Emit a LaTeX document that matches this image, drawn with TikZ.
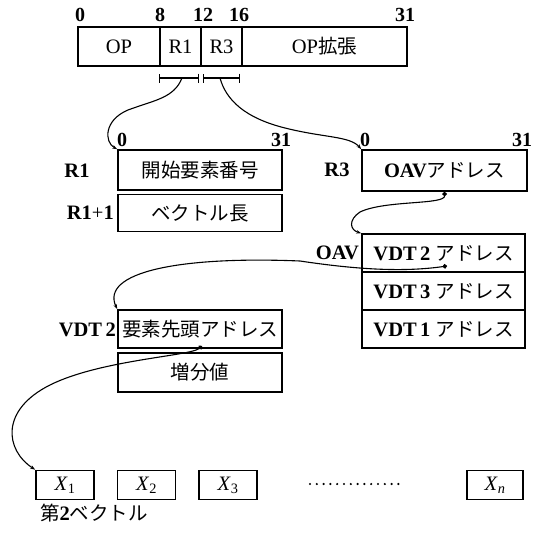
\documentclass[tikz,border=0pt]{standalone}
\usepackage{fontspec}
\setmainfont{Liberation Serif}
\newfontfamily\jp{Noto Sans CJK JP}
\usetikzlibrary{arrows.meta}
\newcommand{\fs}{\fontsize{20.5}{23}\selectfont}
\newcommand{\fj}{\fontsize{19.5}{23}\selectfont\jp}
\newcommand{\fb}{\fontsize{20}{22}\selectfont\bfseries}
\begin{document}
\begin{tikzpicture}[x=1pt,y=-1pt,
  fld/.style={draw,line width=1.6pt,minimum height=39pt,inner sep=0pt,font=\fs},
  box/.style={draw,line width=1.6pt,minimum width=164pt,inner sep=0pt,font=\fs},
  xbox/.style={draw,line width=1.6pt,minimum width=58pt,minimum height=29pt,inner sep=0pt,font=\fs},
  bit/.style={inner sep=0pt,font=\fb},
  lab/.style={inner sep=0pt,font=\fs\bfseries},
  brk/.style={line width=1.3pt,{Bar[width=9pt,line width=1.1pt]}-{Bar[width=9pt,line width=1.1pt]}},
  conn/.style={line width=1.1pt,-{Stealth[length=5pt,width=3.5pt]}},
  dconn/.style={line width=1.1pt,{Circle[length=4.5pt]}-{Stealth[length=5pt,width=3.5pt]}}]
\useasboundingbox (0,0) rectangle (534,538);

% instruction word
\node[fld,minimum width=82pt] (op) at (119,46.5) {OP};
\node[fld,minimum width=41pt] (r1f) at (180.5,46.5) {R1};
\node[fld,minimum width=41pt] (r3f) at (221.5,46.5) {R3};
\node[fld,minimum width=165pt] (opx) at (324.5,46.5) {OP{\fj 拡張}};
\node[bit] (n0) at (80,15) {0};
\node[bit] (n8) at (160,15) {8};
\node[bit] (n12) at (203,15) {12};
\node[bit] (n16) at (239,15) {16};
\node[bit] (n31) at (405,15) {31};

% brackets
\coordinate (b1l) at (159,78);
\coordinate (b1r) at (199,78);
\coordinate (b3l) at (203,78);
\coordinate (b3r) at (240,78);
\coordinate (b1) at (182,78);
\coordinate (b3) at (220,78);
\draw[brk] (b1l) -- (b1r);
\draw[brk] (b3l) -- (b3r);

% R1 registers
\node[box,minimum height=40pt] (r1b) at (200,170) {\fj 開始要素番号};
\node[box,minimum height=37pt] (r1n) at (200,213) {\fj ベクトル長};
\node[lab] (lr1) at (77,171) {R1};
\node[lab,anchor=east] (lr1n) at (114,213) {R1{\mdseries+}1};
\node[bit] (r1z) at (122,140) {0};
\node[bit] (r1t) at (281,140) {31};

% R3 register
\node[box,minimum width=165pt,minimum height=41pt] (r3b) at (444.5,170.5) {\textbf{OAV}{\fj アドレス}};
\node[lab] (lr3) at (337,170) {R3};
\node[bit] (r3z) at (365,140) {0};
\node[bit] (r3t) at (522,140) {31};

% OAV table
\node[box,minimum width=163pt,minimum height=38pt] (oav1) at (443.5,253) {\textbf{VDT\,2} {\fj アドレス}};
\node[box,minimum width=163pt,minimum height=38pt] (oav2) at (443.5,291) {\textbf{VDT\,3} {\fj アドレス}};
\node[box,minimum width=163pt,minimum height=38pt] (oav3) at (443.5,329) {\textbf{VDT\,1} {\fj アドレス}};
\node[lab,anchor=east] (loav) at (359,253) {OAV};

% VDT 2
\node[box,minimum height=38pt] (vdt2) at (200,329) {\fj 要素先頭アドレス};
\node[box,minimum height=39pt] (inc) at (200,372.5) {\fj 増分値};
\node[lab,anchor=east] (lvdt) at (116,330) {VDT\,2};

% vector elements
\node[xbox] (x1) at (65,485) {\textit{X}\textsubscript{1}};
\node[xbox] (x2) at (146.5,485) {\textit{X}\textsubscript{2}};
\node[xbox] (x3) at (228,485) {\textit{X}\textsubscript{3}};
\node[xbox,minimum width=56.5pt] (xn) at (495,485) {\textit{X}\textsubscript{\textit{n}}};
\draw[line width=2.4pt,line cap=round,dash pattern=on 0pt off 6.8pt] (310,484) -- (405,484);
\node[inner sep=0pt,font=\fj] (cap) at (94,513) {第{\fs\rmfamily\bfseries 2}ベクトル};

% connectors
\draw[conn] (b1) .. controls (174,98) and (155,100) .. (128,110) .. controls (104,120) and (104,142) .. (r1b.north west);
\draw[conn] (b3) .. controls (226,100) and (245,118) .. (285,128) .. controls (325,138) and (350,136) .. (r3b.north west);
\draw[dconn] (r3b.south) .. controls (445,205) and (385,200) .. (360,212) .. controls (348,220) and (350,230) .. (oav1.north west);
\coordinate (d2) at (447,266);
\draw[dconn] (d2) .. controls (405,272) and (360,270) .. (300,261) .. controls (180,256) and (100,272) .. (vdt2.north west);
\coordinate (d3) at (202,346);
\draw[dconn] (d3) .. controls (190,356) and (100,360) .. (50,385) .. controls (0,410) and (5,450) .. (x1.north west);
\end{tikzpicture}
\end{document}
